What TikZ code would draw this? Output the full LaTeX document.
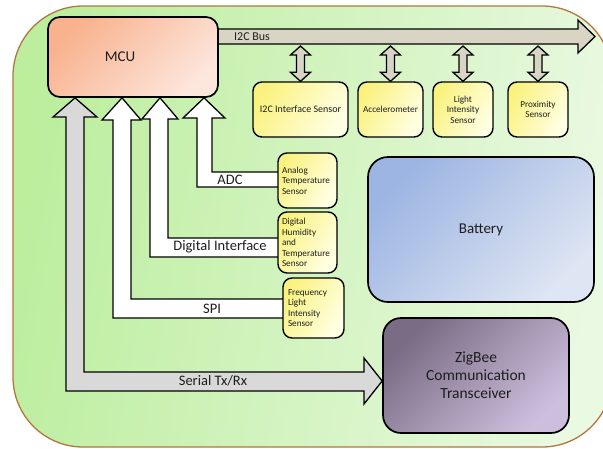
\documentclass[tikz,border=0pt]{standalone}
\usepackage{fontspec}
\setmainfont{Carlito}
\usetikzlibrary{calc}
\pgfdeclarelayer{bg}
\pgfdeclarelayer{links}
\pgfsetlayers{bg,links,main}

\definecolor{panelL}{RGB}{188,238,158}
\definecolor{panelR}{RGB}{234,249,226}
\definecolor{panelEdge}{RGB}{178,118,62}
\definecolor{mcuA}{RGB}{248,178,142}
\definecolor{mcuB}{RGB}{253,230,220}
\definecolor{yelA}{RGB}{250,242,128}
\definecolor{yelB}{RGB}{255,255,228}
\definecolor{batA}{RGB}{156,181,226}
\definecolor{batB}{RGB}{222,229,243}
\definecolor{zigA}{RGB}{122,108,132}
\definecolor{zigB}{RGB}{206,190,222}
\definecolor{busFill}{RGB}{217,213,196}
\definecolor{serFill}{RGB}{217,217,217}
\definecolor{ink}{RGB}{30,30,30}

\begin{document}
\begin{tikzpicture}[x=1pt,y=-1pt,
  box/.style={draw=black, line width=1.7pt, inner sep=0pt, text=ink, align=center},
  sensor/.style={box, line width=1.4pt, rounded corners=9pt,
    left color=yelA, right color=yelB, shading angle=60,
    font=\fontsize{9.2}{10.6}\selectfont},
  bigtext/.style={text=ink, font=\fontsize{14.5}{17}\selectfont, inner sep=0pt},
  busarrow/.style={fill=busFill, draw=black, line width=1.3pt, line join=miter},
  whitearrow/.style={fill=white, draw=black, line width=1.3pt, line join=miter},
  grayarrow/.style={fill=serFill, draw=black, line width=1.3pt, line join=miter}]
\useasboundingbox (0,0) rectangle (603,448);

% ---- blocks ----
\node[box, rounded corners=12pt, minimum width=170pt, minimum height=80pt,
      left color=mcuA, right color=mcuB, shading angle=45,
      font=\fontsize{15}{18}\selectfont] (mcu) at (133,57) {MCU\hspace*{26pt}};

\node[sensor, minimum width=95pt, minimum height=55pt, font=\fontsize{10}{11}\selectfont] (i2cs) at (300.5,109.5) {I2C Interface Sensor};
\node[sensor, minimum width=65pt, minimum height=55pt] (acc) at (390.5,109.5) {Accelerometer};
\node[sensor, minimum width=60pt, minimum height=55pt] (light) at (463,109.5) {Light\\Intensity\\Sensor};
\node[sensor, minimum width=60pt, minimum height=55pt] (prox) at (538,109.5) {Proximity\\Sensor};

\node[sensor, minimum width=59pt, minimum height=55pt, text width=51pt, align=left] (ana) at (307.5,180.5) {Analog\\Temperature\\Sensor};
\node[sensor, minimum width=59pt, minimum height=61pt, text width=51pt, align=left] (dig) at (307.5,242.5) {Digital\\Humidity\\and\\Temperature\\Sensor};
\node[sensor, minimum width=61pt, minimum height=60pt, text width=51pt, align=left] (freq) at (313.5,308) {Frequency\\Light\\Intensity\\Sensor};

\node[box, rounded corners=20pt, minimum width=226pt, minimum height=145pt,
      left color=batA, right color=batB, shading angle=45,
      font=\fontsize{15}{18}\selectfont] (bat) at (481,229.5) {Battery};
\node[box, rounded corners=18pt, minimum width=186pt, minimum height=115pt,
      left color=zigA, right color=zigB, shading angle=45,
      font=\fontsize{15.5}{18}\selectfont] (zig) at (476,375.5) {ZigBee\\Communication\\Transceiver};

% ---- panel behind everything ----
\begin{pgfonlayer}{bg}
  \draw[draw=panelEdge, line width=1.3pt, left color=panelL, right color=panelR,
        shading angle=80, rounded corners=70pt] (13,6) rectangle (612,447);
\end{pgfonlayer}

% ---- buses and links ----
\begin{pgfonlayer}{links}
  % I2C bus
  \filldraw[busarrow] (mcu.center |- 0,29) -- (578,29) -- (578,20) -- (595,36.5)
      -- (578,53) -- (578,44) -- (mcu.center |- 0,44);
  \node[anchor=west, text=ink, font=\fontsize{12}{14}\selectfont, inner sep=0pt] (buslbl) at (234,37) {I2C Bus};
  \coordinate (busbase) at (0,46);
  % two-way links from the bus to each I2C device
  \foreach \s in {i2cs,acc,light,prox}{
    \filldraw[busarrow] let \p1=(\s.north), \p2=(busbase) in
      (\x1,\y2) -- (\x1+10pt,\y2-9pt) -- (\x1+4pt,\y2-9pt) -- (\x1+4pt,\y1+9pt)
      -- (\x1+10pt,\y1+9pt) -- (\x1,\y1) -- (\x1-10pt,\y1+9pt) -- (\x1-4pt,\y1+9pt)
      -- (\x1-4pt,\y2-9pt) -- (\x1-10pt,\y2-9pt) -- cycle;
  }
  % ADC
  \filldraw[whitearrow] (ana.center |- 0,172) -- (212,172) -- (212,118) -- (225,118)
      -- (mcu.south -| 204,0) -- (183,118) -- (197,118) -- (197,187) -- (ana.center |- 0,187);
  % Digital interface
  \filldraw[whitearrow] (dig.center |- 0,238) -- (168,238) -- (168,119) -- (178,119)
      -- (mcu.south -| 160,0) -- (142,119) -- (150,119) -- (150,257) -- (dig.center |- 0,257);
  % SPI
  \filldraw[whitearrow] (freq.center |- 0,299) -- (131,299) -- (131,120) -- (141,120)
      -- (mcu.south -| 122,0) -- (102,120) -- (113,120) -- (113,318) -- (freq.center |- 0,318);
  % Serial Tx/Rx
  \filldraw[grayarrow] (mcu.south -| 75,0) -- (97,117) -- (84,117) -- (84,372) -- (364,372)
      -- (364,358) -- (zig.west |- 0,381) -- (364,404) -- (364,391) -- (66,391)
      -- (66,117) -- (53,117) -- cycle;
\end{pgfonlayer}

% ---- link labels ----
\node[bigtext] (adclbl) at (230,180) {ADC};
\node[bigtext] (diglbl) at (220,247) {Digital Interface};
\node[bigtext] (spilbl) at (212,309) {SPI};
\node[bigtext] (serlbl) at (213,381) {Serial Tx/Rx};
\end{tikzpicture}
\end{document}
